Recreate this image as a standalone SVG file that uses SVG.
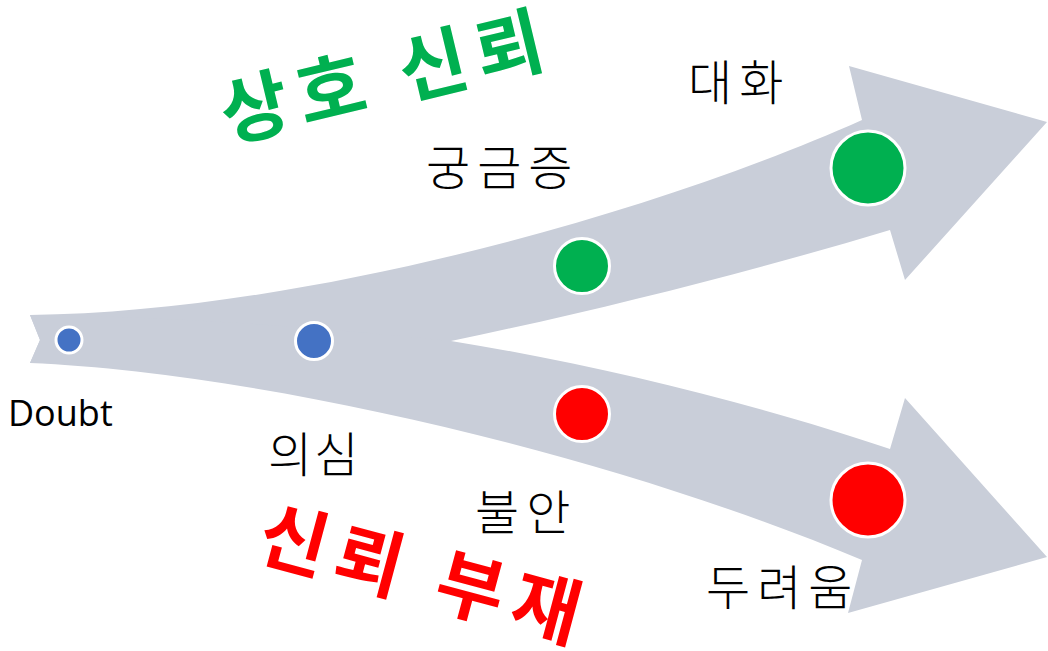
<svg xmlns="http://www.w3.org/2000/svg" width="1048" height="651" viewBox="0 0 1048 651">
<style>
.arrow{fill:#c9ced9;stroke:none}
.dot{stroke:#ffffff;stroke-width:3}
.blue{fill:#4472c4}
.green{fill:#00b050}
.red{fill:#ff0000}
.lbl{font-family:"Noto Sans CJK KR","Noto Sans",sans-serif;font-size:48px;font-weight:300;fill:#000000;letter-spacing:7px}
.en{font-family:"Open Sans","Noto Sans",sans-serif;font-size:36px;fill:#000000}
.title{font-family:"Noto Sans CJK KR",sans-serif;font-size:74px;font-weight:700;letter-spacing:10px}
</style>
<rect width="1048" height="651" fill="#ffffff"/>
<g id="connectors">
<path id="arrow-up" class="arrow" d="M30,315 C300,312 650,215 862,120 L849,66 L1047,122 L905,280 L890,230 C750,272 600,310 451,341 C300,360 150,365 30,363 L40,340 Z"/>
<path id="arrow-down" class="arrow" d="M30,315 C150,316 300,325 451,341 C600,365 760,405 890,449 L905,398 L1047,557 L848,613 L862,560 C600,450 250,372 30,363 L40,340 Z"/>
</g>
<g id="node-doubt">
<circle class="dot blue" cx="69" cy="340" r="13"/>
<text class="en" x="8" y="426">Doubt</text>
</g>
<g id="node-uisim">
<circle class="dot blue" cx="314" cy="341" r="18.5"/>
<text class="lbl" x="268" y="472" style="letter-spacing:2px">의심</text>
</g>
<g id="node-gunggeum">
<circle class="dot green" cx="582" cy="266" r="27.5"/>
<text class="lbl" x="426" y="185">궁금증</text>
</g>
<g id="node-daehwa">
<circle class="dot green" cx="868" cy="168" r="37"/>
<text class="lbl" x="688" y="100">대화</text>
</g>
<g id="node-bulan">
<circle class="dot red" cx="582" cy="414" r="27.5"/>
<text class="lbl" x="475" y="530">불안</text>
</g>
<g id="node-duryeoum">
<circle class="dot red" cx="868" cy="500" r="37"/>
<text class="lbl" x="706" y="605">두려움</text>
</g>
<g id="title-mutual" transform="translate(382,78) rotate(-13.5)">
<text class="title" fill="#00b050" x="5" y="26" text-anchor="middle">상호 신뢰</text>
</g>
<g id="title-distrust" transform="translate(420,575) rotate(15)">
<text class="title" fill="#ff0000" x="5" y="26" text-anchor="middle">신뢰 부재</text>
</g>
</svg>
